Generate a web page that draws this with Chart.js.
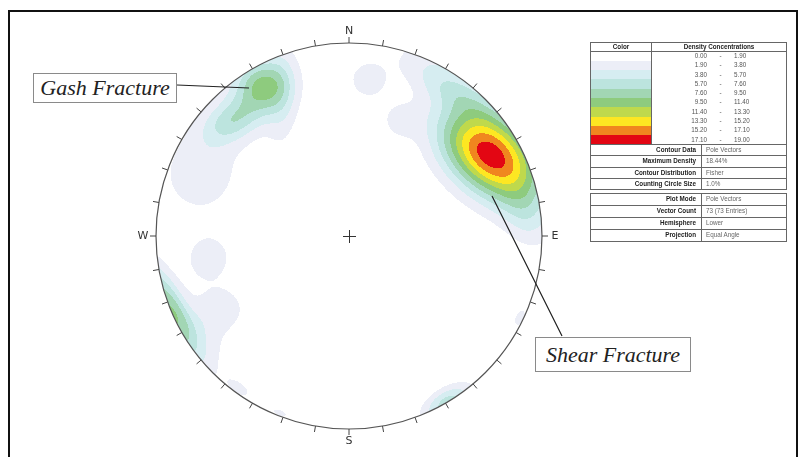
<!DOCTYPE html>
<html lang="en">
<head>
<meta charset="UTF-8" />
<title>Pole Vector Density - Stereonet</title>
<script src="https://cdn.jsdelivr.net/npm/chart.js@4.4.1/dist/chart.umd.min.js"></script>
<style>
  body { margin: 0; background: #fff; }
  #wrap { position: relative; width: 803px; height: 457px; overflow: hidden; background: #fff;
          font-family: "Liberation Sans", Arial, sans-serif; }
  #frame { position: absolute; left: 8px; top: 10px; width: 790px; height: 460px; border: 2px solid #111; box-sizing: border-box; }
  canvas { position: absolute; left: 0; top: 0; }
  .note { position: absolute; border: 1px solid #8a8a8a; background: #fff; font-family: "Liberation Serif", "Times New Roman", serif;
          font-style: italic; font-size: 22px; color: #222; line-height: 1; box-sizing: border-box;
          display: flex; align-items: center; justify-content: center; }
  table.info { position: absolute; border-collapse: collapse; table-layout: fixed; font-size: 6.3px; line-height: 1; }
  table.info td, table.info th { padding: 0; border: 1px solid #666; white-space: nowrap; overflow: hidden; }
  table.info th { font-weight: bold; color: #222; text-align: center; }
  table.info td.lab { font-weight: bold; color: #222; text-align: right; padding-right: 5px; }
  table.info td.val { color: #666; text-align: left; padding-left: 4px; }
  table.info tr.band td { border-top: none; border-bottom: none; }
  .rng { display: flex; color: #555; }
  .rng span:nth-child(1) { width: 55px; text-align: right; }
  .rng span:nth-child(2) { width: 27px; text-align: center; }
  .rng span:nth-child(3) { text-align: left; }
</style>
</head>
<body>
<div id="wrap">
  <div id="frame"></div>
  <canvas id="net" width="803" height="457"></canvas>
  <div class="note" style="left:33px; top:73px; width:144px; height:30px;">Gash Fracture</div>
  <div class="note" style="left:535px; top:337px; width:156px; height:35px;">Shear Fracture</div>
  <table class="info" id="tblColor" style="left:590px; top:42px; width:197px;"></table>
  <table class="info" id="tblContour" style="left:590px; top:144px; width:197px;"></table>
  <table class="info" id="tblPlot" style="left:590px; top:193px; width:197px;"></table>
</div>

<script>
  // density clusters of the pole vectors (lower hemisphere, equal angle)
  const clusterName  = ['shear core', 'shear halo', 'shear north tail', 'north rim', 'north spot', 'inner spot', 'east rim',
                        'east-southeast rim', 'south-southeast', 'south-southwest', 'south', 'west rim', 'west halo',
                        'west spot 1', 'west spot 2', 'gash core', 'gash lobe', 'gash halo', 'northwest spot', 'gash north strip'];
  const poleTrend    = [59.8, 62.5, 36.9, 30.0, 6.9, 23.5, 83.2, 115.6, 149.4, 215.5, 201.3, 247.0, 235.5, 261.1, 239.7, 330.0, 314.5, 321.6, 291.6, 334.1];
  const polePlunge   = [9.6, 9.1, 5.1, 0.3, 11.7, 24.0, 4.9, 1.0, 0.0, 1.6, 0.9, 0.0, 5.7, 17.4, 16.3, 5.8, 9.3, 8.2, 10.6, 13.0];
  const peakDensity  = [14.44, 4.0, 2.2, 2.8, 2.8, 2.3, 2.5, 2.2, 6.5, 2.2, 2.1, 9.3, 2.3, 3.0, 3.0, 7.5, 4.5, 3.0, 3.0, 2.6];
  const spreadAlong  = [0.20, 0.28, 0.18, 0.20, 0.082, 0.07, 0.13, 0.07, 0.10, 0.07, 0.07, 0.20, 0.16, 0.092, 0.081, 0.093, 0.11, 0.22, 0.146, 0.20];
  const spreadAcross = [0.135, 0.135, 0.06, 0.09, 0.082, 0.07, 0.08, 0.04, 0.05, 0.035, 0.03, 0.058, 0.08, 0.092, 0.081, 0.093, 0.068, 0.13, 0.146, 0.06];
  const axisAzimuth  = [128, 138, 120, 115, 0, 0, 160, 25.6, 59.6, 125.5, 111.3, 154, 160, 0, 0, 0, 62, 50, 0, 0];

  const densityLevels = [0.00, 1.90, 3.80, 5.70, 7.60, 9.50, 11.40, 13.30, 15.20, 17.10, 19.00];
  const levelColors = ['#ffffff', '#eceef7', '#d6edf1', '#bce4de', '#a2d6b4', '#8ecb7e', '#bfd94c', '#fde722', '#f0861f', '#e30613'];

  const contourLabels = ['Contour Data', 'Maximum Density', 'Contour Distribution', 'Counting Circle Size'];
  const contourValues = ['Pole Vectors', '18.44%', 'Fisher', '1.0%'];
  const plotLabels = ['Plot Mode', 'Vector Count', 'Hemisphere', 'Projection'];
  const plotValues = ['Pole Vectors', '73 (73 Entries)', 'Lower', 'Equal Angle'];
  const directions = ['N', 'E', 'S', 'W'];

  const rad = d => d * Math.PI / 180;

  // equal angle (stereographic) projection of a pole
  function project(trend, plunge) {
    const d = Math.tan(rad(90 - plunge) / 2);
    return { x: d * Math.sin(rad(trend)), y: d * Math.cos(rad(trend)) };
  }
  const centers = poleTrend.map((t, i) => project(t, polePlunge[i]));

  function density(u, v) {
    let s = 0;
    for (let i = 0; i < centers.length; i++) {
      const dx = u - centers[i].x, dy = v - centers[i].y;
      const ax = Math.sin(rad(axisAzimuth[i])), ay = Math.cos(rad(axisAzimuth[i]));
      const along = dx * ax + dy * ay, across = -dx * ay + dy * ax;
      s += peakDensity[i] * Math.exp(-0.5 * (along * along / (spreadAlong[i] ** 2) + across * across / (spreadAcross[i] ** 2)));
    }
    return s;
  }
  function levelOf(d) {
    let lvl = 0;
    for (let i = 1; i < densityLevels.length - 1; i++) if (d >= densityLevels[i]) lvl = i;
    return lvl;
  }

  const stereonet = {
    id: 'stereonet',
    beforeDatasetsDraw(chart) {
      const { ctx, scales: { x, y } } = chart;
      const cx = x.getPixelForValue(0), cy = y.getPixelForValue(0);
      const R = x.getPixelForValue(1) - cx;
      ctx.save();
      ctx.beginPath();
      ctx.arc(cx, cy, R, 0, Math.PI * 2);
      ctx.clip();
      const x0 = Math.floor(cx - R), x1 = Math.ceil(cx + R);
      for (let py = Math.floor(cy - R); py <= Math.ceil(cy + R); py++) {
        const v = y.getValueForPixel(py + 0.5);
        let runStart = x0, runLevel = 0;
        for (let px = x0; px <= x1 + 1; px++) {
          let lvl = 0;
          if (px <= x1) {
            const u = x.getValueForPixel(px + 0.5);
            if (u * u + v * v <= 1.03) lvl = levelOf(density(u, v));
          }
          if (lvl !== runLevel) {
            if (runLevel > 0) {
              ctx.fillStyle = levelColors[runLevel];
              ctx.fillRect(runStart, py, px - runStart, 1);
            }
            runLevel = lvl;
            runStart = px;
          }
        }
      }
      ctx.restore();
    },
    afterDatasetsDraw(chart) {
      const { ctx, scales: { x, y } } = chart;
      const cx = x.getPixelForValue(0), cy = y.getPixelForValue(0);
      const R = x.getPixelForValue(1) - cx;
      ctx.save();
      // primitive circle
      ctx.strokeStyle = '#555';
      ctx.lineWidth = 1.2;
      ctx.beginPath();
      ctx.arc(cx, cy, R, 0, Math.PI * 2);
      ctx.stroke();
      // 10 degree ticks
      ctx.lineWidth = 1;
      ctx.strokeStyle = '#444';
      for (let a = 0; a < 360; a += 10) {
        const s = Math.sin(rad(a)), c = Math.cos(rad(a));
        ctx.beginPath();
        ctx.moveTo(cx + s * R, cy - c * R);
        ctx.lineTo(cx + s * (R + 6), cy - c * (R + 6));
        ctx.stroke();
      }
      // centre cross
      ctx.strokeStyle = '#333';
      ctx.beginPath();
      ctx.moveTo(cx - 6, cy + 0.5); ctx.lineTo(cx + 7, cy + 0.5);
      ctx.moveTo(cx + 0.5, cy - 6); ctx.lineTo(cx + 0.5, cy + 7);
      ctx.stroke();
      // direction letters
      ctx.fillStyle = '#333';
      ctx.font = '11px "DejaVu Sans", sans-serif';
      ctx.textAlign = 'center';
      ctx.textBaseline = 'middle';
      directions.forEach((d, i) => {
        const a = rad(i * 90), off = i % 2 ? 13 : 12;
        ctx.fillText(d, cx + Math.sin(a) * (R + off), cy - Math.cos(a) * (R + off));
      });
      // leader lines to the annotations
      ctx.strokeStyle = '#222';
      ctx.lineWidth = 1.2;
      ctx.beginPath();
      ctx.moveTo(177, 85); ctx.lineTo(249, 88);
      ctx.moveTo(492, 196); ctx.lineTo(562, 336);
      ctx.stroke();
      ctx.restore();
    }
  };

  new Chart(document.getElementById('net'), {
    type: 'scatter',
    data: {
      datasets: [{
        label: 'Density clusters',
        data: centers,
        pointRadius: 0
      }]
    },
    options: {
      responsive: false,
      animation: false,
      events: [],
      layout: { padding: { left: 156, right: 261, top: 43, bottom: 28 } },
      scales: {
        x: { type: 'linear', min: -1, max: 1, display: false },
        y: { type: 'linear', min: -1, max: 1, display: false }
      },
      plugins: { legend: { display: false }, tooltip: { enabled: false } }
    },
    plugins: [stereonet]
  });

  // legend tables
  let html = '<colgroup><col style="width:61px"><col></colgroup>' +
             '<tr style="height:9px"><th>Color</th><th>Density Concentrations</th></tr>';
  for (let i = 0; i < levelColors.length; i++) {
    html += '<tr class="band" style="height:9.3px"><td style="background:' + levelColors[i] + '"></td>' +
            '<td><div class="rng"><span>' + densityLevels[i].toFixed(2) + '</span><span>-</span><span>' +
            densityLevels[i + 1].toFixed(2) + '</span></div></td></tr>';
  }
  document.getElementById('tblColor').innerHTML = html;

  function infoTable(id, labels, values, h) {
    let t = '<colgroup><col style="width:111px"><col></colgroup>';
    labels.forEach((l, i) => {
      t += '<tr style="height:' + h + 'px"><td class="lab">' + l + '</td><td class="val">' + values[i] + '</td></tr>';
    });
    document.getElementById(id).innerHTML = t;
  }
  infoTable('tblContour', contourLabels, contourValues, 11.3);
  infoTable('tblPlot', plotLabels, plotValues, 12);
</script>
</body>
</html>
